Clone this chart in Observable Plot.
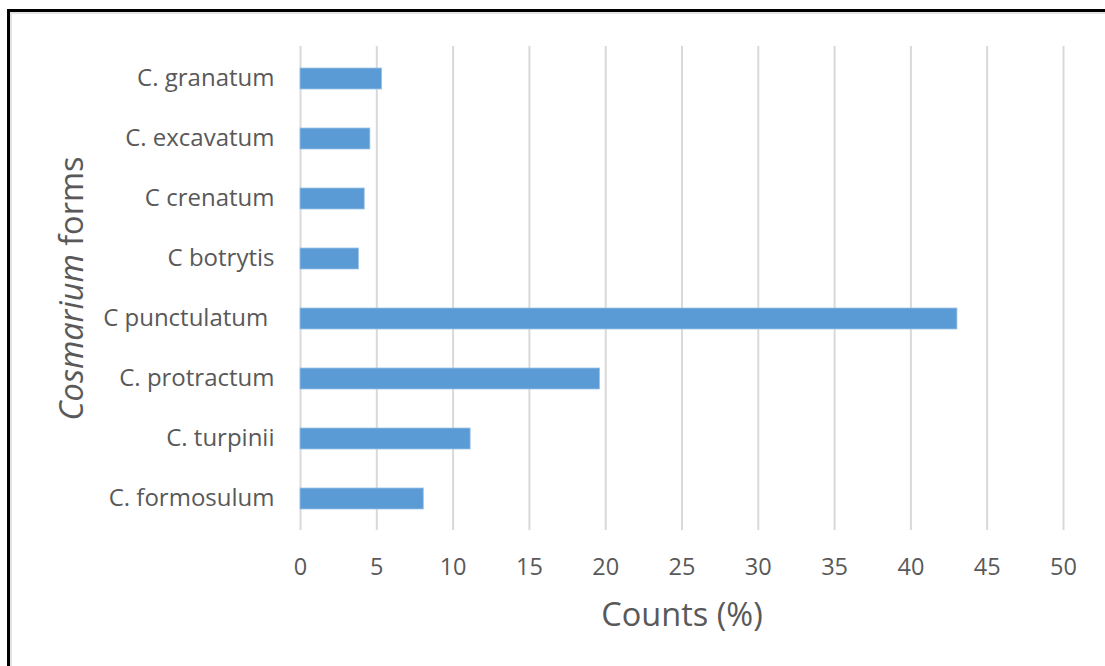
<!DOCTYPE html>
<html><head><meta charset="utf-8">
<script src="https://cdn.jsdelivr.net/npm/d3@7"></script>
<script src="https://cdn.jsdelivr.net/npm/@observablehq/plot@0.6"></script>
<style>
html,body{margin:0;padding:0;background:#fff;}
#wrap{position:relative;width:1105px;height:666px;overflow:hidden;}
#frame{position:absolute;left:7px;top:9px;right:-20px;bottom:-20px;border-left:3px solid #000;border-top:3px solid #000;pointer-events:none;}
#shade{position:absolute;left:10px;top:12px;right:-20px;bottom:-20px;border-left:2px solid #e3e3e3;border-top:2px solid #e3e3e3;pointer-events:none;}
svg text{white-space:pre;}
</style></head><body>
<div id="wrap"><div id="chart"></div><div id="shade"></div><div id="frame"></div></div>
<script>
const species = ["C. granatum", "C. excavatum", "C crenatum", "C botrytis", "C punctulatum ", "C. protractum", "C. turpinii", "C. formosulum"];
const counts = [5.35, 4.58, 4.21, 3.83, 43.05, 19.63, 11.15, 8.08];
const xTicks = [0, 5, 10, 15, 20, 25, 30, 35, 40, 45, 50];
const xTitle = "Counts (%)";
const yTitleItalic = "Cosmarium";
const yTitleRest = " forms";
const yTitle = yTitleItalic + yTitleRest;

const data = species.map((s, i) => ({species: s, count: counts[i]}));

const chart = Plot.plot({
  width: 1105, height: 666,
  marginLeft: 300, marginRight: 42, marginTop: 46, marginBottom: 136,
  style: {fontFamily: "'Open Sans', sans-serif", fontSize: "24px", color: "#595959", background: "#fff"},
  x: {domain: [0, 50], ticks: xTicks, label: null},
  y: {domain: species, paddingInner: 0.65, paddingOuter: 0.325, label: null},
  marks: [
    Plot.gridX(xTicks, {stroke: "#d9d9d9", strokeWidth: 2, strokeOpacity: 1}),
    Plot.barX(data, {x: "count", y: "species", fill: "#5B9BD5", stroke: "#9DC3E6", strokeWidth: 0.8}),
    Plot.axisX(xTicks, {tickSize: 0, tickPadding: 28, fontSize: 23.5, label: null}),
    Plot.axisY({tickSize: 0, tickPadding: 26, fontSize: 24, label: null, dy: -1}),
    Plot.text([xTitle], {frameAnchor: "bottom", dy: 85, lineAnchor: "middle", fontSize: 32.5, fill: "#595959"}),
    Plot.text([yTitle], {frameAnchor: "left", dx: -228, rotate: -90, textAnchor: "middle", lineAnchor: "middle", fontSize: 32.5, fill: "#595959"})
  ]
});

d3.select(chart).selectAll("text").filter(function() { return this.textContent === yTitle; })
  .each(function() {
    const t = d3.select(this);
    t.text("");
    t.append("tspan").attr("font-style", "italic").text(yTitleItalic);
    t.append("tspan").text(yTitleRest);
  });

document.getElementById("chart").appendChild(chart);
</script>
</body></html>
